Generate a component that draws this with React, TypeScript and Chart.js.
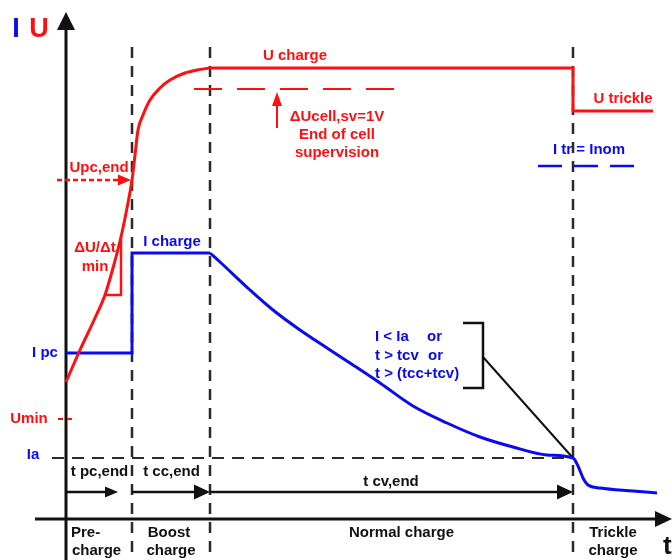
import { useEffect, useRef } from "react";
import { Chart, registerables } from "chart.js";

Chart.register(...registerables);

// ---- colours ----
const RED = "#ff1010";
const BLUE = "#0a0af0";
const BLACK = "#111111";
const GREY = "#2a2a2a";
const FONT = '"Liberation Sans", Arial, sans-serif';

// ---- axis ranges (time units / level units) ----
const T_MIN = -66;
const T_MAX = 606;
const L_MIN = -41;
const L_MAX = 519;

// ---- phase boundaries (time) ----
const tPcEnd = 66;
const tCcEnd = 144;
const tCvEnd = 507;
const tEnd = 591;

// ---- voltage U ----
const uRiseT = [0, 14, 29, 39, 47, 55, 61, 66, 69, 72, 77, 84, 94, 104, 119, 131, 144];
const uRiseV = [137, 169, 201, 224, 251, 282, 311, 339, 364, 389, 404, 419, 431, 439, 446, 449, 451];
const uCharge = 451;
const uTrickle = 408;
const uTrickleEndT = 587;
const uPcEnd = 339;
const uMin = 100;
const uSupervision = 430;

// ---- current I ----
const iPc = 166;
const iCharge = 266;
const iDecayT = [144, 154, 184, 207, 234, 261, 287, 314, 347, 381, 414, 447, 481, 507, 512, 517, 522, 534, 567, 591];
const iDecayV = [266, 257, 229, 209, 189, 171, 154, 136, 113, 96, 82, 72, 64, 61, 53, 41, 34, 31, 28, 26];
const iA = 61;
const iTrickle = 353;

// ---- misc annotation levels ----
const timeArrowLevel = 27;
const dividerTop = 472;

const pts = (xs: number[], ys: number[]) => xs.map((x, i) => ({ x, y: ys[i] }));
const seg = (a: number[], b: number[]) => [{ x: a[0], y: a[1] }, { x: b[0], y: b[1] }];

type Arrow = { x: number; y: number; dir: "up" | "right"; len: number; half: number; color: string };
const arrowHeads: Arrow[] = [
  { x: 0, y: 507, dir: "up", len: 18, half: 9, color: BLACK },
  { x: T_MAX, y: 0, dir: "right", len: 17, half: 8, color: BLACK },
  { x: tPcEnd - 1, y: uPcEnd, dir: "right", len: 13, half: 5.5, color: RED },
  { x: 211, y: 427, dir: "up", len: 14, half: 5, color: RED },
  { x: 52, y: timeArrowLevel, dir: "right", len: 13, half: 5.5, color: BLACK },
  { x: tCcEnd, y: timeArrowLevel, dir: "right", len: 16, half: 7.5, color: BLACK },
  { x: tCvEnd, y: timeArrowLevel, dir: "right", len: 16, half: 7.5, color: BLACK },
];

type Label = { text: string; x: number; y: number; color: string; align?: CanvasTextAlign; size?: number };
const labels: Label[] = [
  { text: "I", x: -50, y: 489, color: BLUE, size: 27 },
  { text: "U", x: -27, y: 489, color: RED, size: 27 },
  { text: "t", x: 597, y: -28, color: BLACK, size: 26, align: "left" },
  { text: "U charge", x: 229, y: 463, color: RED },
  { text: "\u0394Ucell,sv=1V", x: 271, y: 402, color: RED },
  { text: "End of cell", x: 271, y: 384, color: RED },
  { text: "supervision", x: 271, y: 366, color: RED },
  { text: "U trickle", x: 557, y: 420, color: RED },
  { text: "I tr = Inom", x: 523, y: 369, color: BLUE },
  { text: "I charge", x: 106, y: 277, color: BLUE },
  { text: "\u0394U/\u0394t", x: 29, y: 271, color: RED },
  { text: "min", x: 29, y: 252, color: RED },
  { text: "Upc,end", x: 33, y: 351, color: RED },
  { text: "I pc", x: -21, y: 166, color: BLUE },
  { text: "Umin", x: -37, y: 100, color: RED },
  { text: "Ia", x: -33, y: 64, color: BLUE },
  { text: "t pc,end", x: 33.5, y: 47, color: BLACK },
  { text: "t cc,end", x: 105.5, y: 47, color: BLACK },
  { text: "t cv,end", x: 325, y: 37, color: BLACK },
  { text: "Pre-", x: 5, y: -14, color: BLACK, align: "left" },
  { text: "charge", x: 6, y: -32, color: BLACK, align: "left" },
  { text: "Boost", x: 103, y: -14, color: BLACK },
  { text: "charge", x: 105, y: -32, color: BLACK },
  { text: "Normal charge", x: 335.5, y: -14, color: BLACK },
  { text: "Trickle", x: 547, y: -14, color: BLACK },
  { text: "charge", x: 547, y: -32, color: BLACK },
  { text: "I < Ia", x: 309, y: 182, color: BLUE, align: "left" },
  { text: "or", x: 361, y: 182, color: BLUE, align: "left" },
  { text: "t > tcv", x: 309, y: 163, color: BLUE, align: "left" },
  { text: "or", x: 362, y: 163, color: BLUE, align: "left" },
  { text: "t > (tcc+tcv)", x: 309, y: 145, color: BLUE, align: "left" },
];

const overlay = {
  id: "overlay",
  afterDatasetsDraw(chart: any) {
    const { ctx } = chart;
    const xs = chart.scales.x;
    const ys = chart.scales.y;
    ctx.save();
    for (const a of arrowHeads) {
      const tx = xs.getPixelForValue(a.x);
      const ty = ys.getPixelForValue(a.y);
      ctx.fillStyle = a.color;
      ctx.beginPath();
      if (a.dir === "right") {
        ctx.moveTo(tx, ty);
        ctx.lineTo(tx - a.len, ty - a.half);
        ctx.lineTo(tx - a.len, ty + a.half);
      } else {
        ctx.moveTo(tx, ty);
        ctx.lineTo(tx - a.half, ty + a.len);
        ctx.lineTo(tx + a.half, ty + a.len);
      }
      ctx.closePath();
      ctx.fill();
    }
    ctx.textBaseline = "middle";
    for (const l of labels) {
      ctx.font = `bold ${l.size ?? 15}px ${FONT}`;
      ctx.fillStyle = l.color;
      ctx.textAlign = l.align ?? "center";
      ctx.fillText(l.text, xs.getPixelForValue(l.x), ys.getPixelForValue(l.y));
    }
    ctx.restore();
  },
};

const line = (data: any[], color: string, width: number, extra: any = {}) => ({
  type: "line",
  data,
  borderColor: color,
  borderWidth: width,
  pointRadius: 0,
  fill: false,
  tension: 0,
  ...extra,
});

export default function App() {
  const ref = useRef<HTMLCanvasElement | null>(null);
  useEffect(() => {
    if (!ref.current) return;
    const dividers = [tPcEnd, tCcEnd, tCvEnd].map((t) =>
      line(seg([t, dividerTop], [t, L_MIN]), GREY, 2.5, { borderDash: [11, 8] })
    );
    const chart = new Chart(ref.current, {
      type: "line",
      data: {
        datasets: [
          line(pts(uRiseT, uRiseV), RED, 3, { cubicInterpolationMode: "monotone" }),
          line(
            [
              { x: tCcEnd, y: uCharge },
              { x: tCvEnd, y: uCharge },
              { x: tCvEnd, y: uTrickle },
              { x: uTrickleEndT, y: uTrickle },
            ],
            RED,
            3
          ),
          line(
            [
              { x: 0, y: iPc },
              { x: tPcEnd, y: iPc },
              { x: tPcEnd, y: iCharge },
              { x: tCcEnd, y: iCharge },
            ],
            BLUE,
            3
          ),
          line(pts(iDecayT, iDecayV), BLUE, 3, { cubicInterpolationMode: "monotone" }),
          // delta U / delta t triangle
          line([{ x: 40, y: 224 }, { x: 55, y: 224 }, { x: 55, y: 282 }], RED, 2.5),
          // Upc,end dashed arrow
          line(seg([-9, uPcEnd], [tPcEnd - 12, uPcEnd]), RED, 2.5, { borderDash: [5, 3] }),
          // Umin tick
          line(seg([-8, uMin], [6, uMin]), RED, 2, { borderDash: [5, 4] }),
          // supervision band
          line(seg([128, uSupervision], [329, uSupervision]), RED, 2, { borderDash: [28, 15] }),
          line(seg([211, 391], [211, 414]), RED, 2),
          // trickle current
          line(seg([472, iTrickle], [569, iTrickle]), BLUE, 2.5, { borderDash: [24, 12] }),
          // bracket and pointer
          line(
            [{ x: 397, y: 196 }, { x: 417, y: 196 }, { x: 417, y: 131 }, { x: 397, y: 131 }],
            BLACK,
            2.5
          ),
          line(seg([417, 162], [tCvEnd, iA]), BLACK, 2),
          // Ia level
          line(seg([-14, iA], [tCvEnd, iA]), GREY, 2, { borderDash: [12, 8] }),
          // time arrows
          line(seg([0, timeArrowLevel], [42, timeArrowLevel]), BLACK, 2.5),
          line(seg([tPcEnd, timeArrowLevel], [tCcEnd - 14, timeArrowLevel]), BLACK, 2.5),
          line(seg([tCcEnd, timeArrowLevel], [tCvEnd - 14, timeArrowLevel]), BLACK, 2.5),
          ...dividers,
          // axes
          line(seg([0, L_MIN], [0, 492]), BLACK, 3),
          line(seg([-31, 0], [tEnd, 0]), BLACK, 3),
        ] as any,
      },
      options: {
        animation: false,
        responsive: false,
        devicePixelRatio: 1,
        layout: { padding: 0 },
        parsing: true,
        plugins: { legend: { display: false }, tooltip: { enabled: false }, title: { display: false } },
        events: [],
        scales: {
          x: { type: "linear", min: T_MIN, max: T_MAX, display: false },
          y: { type: "linear", min: L_MIN, max: L_MAX, display: false },
        },
      } as any,
      plugins: [overlay],
    });
    return () => chart.destroy();
  }, []);
  return (
    <div style={{ position: "fixed", left: 0, top: 0, width: 672, height: 560, background: "#fff" }}>
      <canvas ref={ref} width={672} height={560} style={{ display: "block" }} />
    </div>
  );
}
